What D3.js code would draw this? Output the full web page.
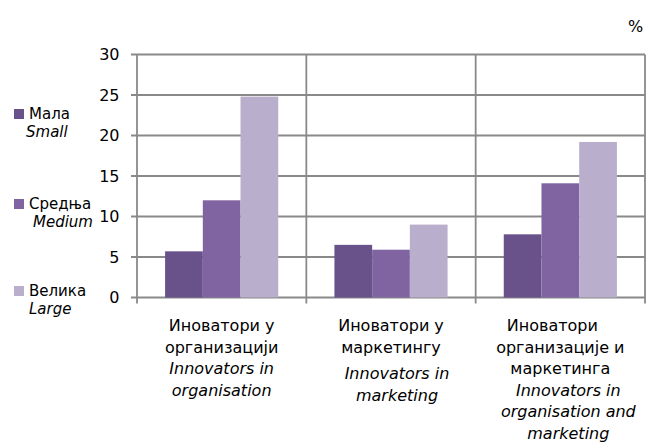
<!DOCTYPE html>
<html><head><meta charset="utf-8">
<script src="https://cdn.jsdelivr.net/npm/d3@7"></script>
<style>body{margin:0;background:#fff}svg{display:block}text{font-family:"DejaVu Sans",sans-serif;fill:#000}</style>
</head><body><svg id="c" width="650" height="448"></svg>
<script>
const categories = ["org","mkt","orgmkt"];
const categoryLabels = [
  [["Иноватори у",false],["организацији",false],["Innovators in",true],["organisation",true]],
  [["Иноватори у",false],["маркетингу",false],["Innovators in",true],["marketing",true]],
  [["Иноватори",false],["организације и",false],["маркетинга",false],["Innovators in",true],["organisation and",true],["marketing",true]]
];
const seriesNames = ["small","medium","large"];
const seriesLabels = [["Мала","Small"],["Средња","Medium"],["Велика","Large"]];
const small = [5.7, 6.5, 7.8];
const medium = [12.0, 5.9, 14.1];
const large = [24.8, 9.0, 19.2];
const yTicks = [0,5,10,15,20,25,30];
const colors = ["#69518a","#8064a2","#b9aecb"];

const svg = d3.select("#c");
const pL=137, pR=645, pT=54.5, pB=297.5;
const x = d3.scaleBand().domain(categories).range([pL,pR]).paddingInner(0).paddingOuter(0);
const xs = d3.scaleBand().domain(seriesNames).range([0,x.bandwidth()]).paddingInner(0).paddingOuter(0.745);
const y = d3.scaleLinear().domain([0,30]).range([pB,pT]);
const grid="#898989";
const FS=16;

svg.append("g").selectAll("line").data(yTicks).join("line")
  .attr("x1",pL-6).attr("x2",pR).attr("y1",d=>y(d)).attr("y2",d=>y(d))
  .attr("stroke",grid).attr("stroke-width",1.8);
const vx = categories.map(c=>x(c)).concat([pR]);
svg.append("g").selectAll("line").data(vx).join("line")
  .attr("x1",d=>d).attr("x2",d=>d).attr("y1",pT).attr("y2",pB+6)
  .attr("stroke",grid).attr("stroke-width",1.8);

const data = [small,medium,large];
data.forEach((vals,si)=>{
  svg.append("g").selectAll("rect").data(vals).join("rect")
    .attr("x",(d,i)=>x(categories[i])+xs(seriesNames[si]))
    .attr("width",xs.bandwidth())
    .attr("y",d=>y(d)).attr("height",d=>pB-y(d))
    .attr("fill",colors[si]);
});

svg.append("g").selectAll("text").data(yTicks).join("text")
  .attr("x",119.5).attr("y",d=>y(d)).attr("dy","0.36em").attr("text-anchor","end")
  .attr("font-size",FS).text(d=>d);

const italicShift=[0,6,8];
categoryLabels.forEach((lines,i)=>{
  const cx = x(categories[i])+x.bandwidth()/2;
  const g = svg.append("g");
  let yy = 331;
  lines.forEach((l,j)=>{
    if(i===1 && j===2) yy+=5;
    let dx = l[1]?italicShift[i]:0;
    if(i===2 && j===0) dx=-8;
    g.append("text").attr("x",cx+dx).attr("y",yy).attr("text-anchor","middle")
      .attr("font-size",FS).attr("font-style",l[1]?"italic":"normal").text(l[0]);
    yy += 21.6;
  });
});

const legY = [119,209,296];
const leg2X = [26,33,29];
const LFS=15;
seriesLabels.forEach((s,i)=>{
  svg.append("rect").attr("x",14).attr("y",legY[i]-10).attr("width",10).attr("height",10).attr("fill",colors[i]);
  svg.append("text").attr("x",29).attr("y",legY[i]).attr("font-size",LFS).text(s[0]);
  svg.append("text").attr("x",leg2X[i]).attr("y",legY[i]+17.5).attr("font-size",LFS).attr("font-style","italic").text(s[1]);
});

svg.append("text").attr("x",628).attr("y",32).attr("font-size",FS).text("%");
</script></body></html>
